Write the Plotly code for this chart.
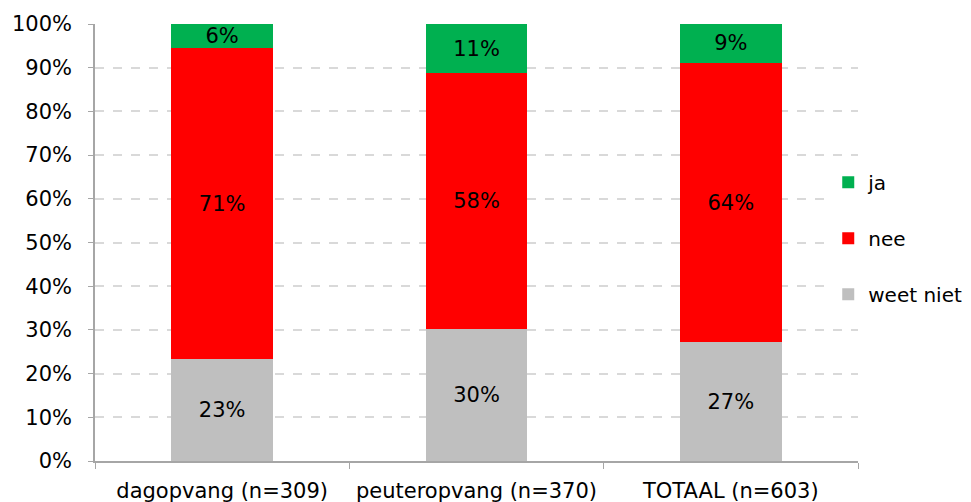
import plotly.graph_objects as go

categories = ["dagopvang (n=309)", "peuteropvang (n=370)", "TOTAAL (n=603)"]
weet_niet = [23.3, 30.3, 27.2]
nee = [71.1, 58.4, 63.9]
ja = [5.6, 11.3, 8.9]

series = [
    ("weet niet", weet_niet, "#bfbfbf", 3),
    ("nee", nee, "#ff0000", 2),
    ("ja", ja, "#00b050", 1),
]

fig = go.Figure()
for name, vals, color, rank in series:
    fig.add_trace(
        go.Bar(
            name=name,
            x=categories,
            y=vals,
            marker_color=color,
            marker_line_width=0,
            legendgroup=name,
            legendrank=rank,
            texttemplate="%{y:.0f}%",
            textposition="inside",
            insidetextanchor="middle",
            textfont=dict(color="#000000", size=21),
        )
    )

# the page body has an 8px margin, so margins are shifted by that amount;
# figure is a bit wider than the window so the legend doesn't push the margin
fig.update_layout(
    barmode="stack",
    bargap=0.6,
    width=991,
    height=502,
    margin=dict(l=87, r=141, t=16, b=49),
    font=dict(family="Verdana, DejaVu Sans, sans-serif", size=21, color="#000000"),
    paper_bgcolor="white",
    plot_bgcolor="white",
    uniformtext=dict(minsize=21, mode="show"),
    legend=dict(
        x=0.961,
        xanchor="left",
        y=0.51,
        yanchor="middle",
        traceorder="grouped",
        tracegroupgap=27,
        font=dict(size=20),
    ),
    showlegend=True,
)

fig.update_yaxes(
    range=[0, 100],
    dtick=10,
    ticksuffix="%",
    showgrid=True,
    gridcolor="#d9d9d9",
    griddash="dash",
    gridwidth=1.5,
    showline=True,
    linecolor="#a6a6a6",
    linewidth=1.5,
    ticks="outside",
    ticklen=5,
    tickcolor="#a6a6a6",
    ticklabelstandoff=12,
    zeroline=False,
    automargin=False,
)
fig.update_xaxes(
    showline=True,
    linecolor="#a6a6a6",
    linewidth=1.5,
    ticks="outside",
    tickson="boundaries",
    ticklen=6,
    tickcolor="#a6a6a6",
    ticklabelstandoff=10,
    tickangle=0,
    automargin=False,
)

fig.write_html("out.html")
